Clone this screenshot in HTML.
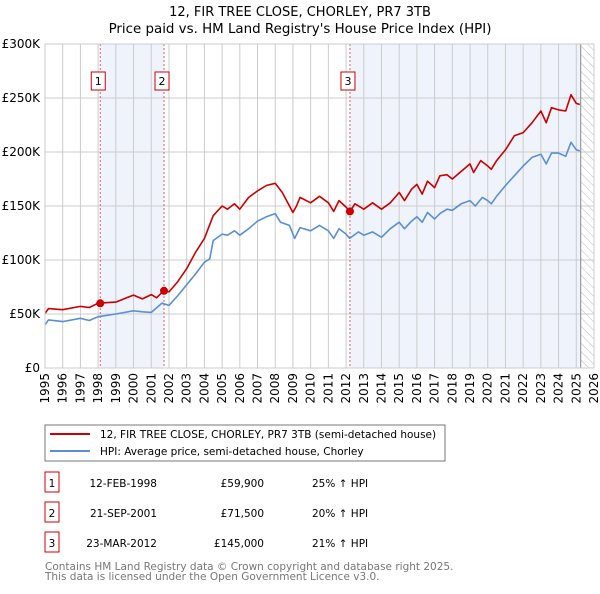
<!DOCTYPE html>
<html><head><meta charset="utf-8"><style>
body{margin:0;background:#fff;font-family:"DejaVu Sans","Liberation Sans",sans-serif;}
svg text{font-family:"DejaVu Sans","Liberation Sans",sans-serif;}
</style></head><body>
<svg id="c" width="600" height="590" viewBox="0 0 600 590">
<defs><pattern id="hatch" width="6" height="6" patternUnits="userSpaceOnUse" patternTransform="rotate(-45)"><line x1="0" y1="0" x2="0" y2="6" stroke="#bbb" stroke-width="1"/></pattern></defs>
<text x="300" y="16" text-anchor="middle" font-size="13">12, FIR TREE CLOSE, CHORLEY, PR7 3TB</text>
<text x="300" y="33" text-anchor="middle" font-size="13.4">Price paid vs. HM Land Registry's House Price Index (HPI)</text>
<g id="plot"></g>
<rect x="45" y="425" width="400" height="36" fill="#fff" stroke="#777"/>
<line x1="50" y1="434" x2="90" y2="434" stroke="#cc0000" stroke-width="2"/>
<text x="100" y="438" font-size="10.5">12, FIR TREE CLOSE, CHORLEY, PR7 3TB (semi-detached house)</text>
<line x1="50" y1="451" x2="90" y2="451" stroke="#5b8fd4" stroke-width="2"/>
<text x="100" y="455" font-size="10.5">HPI: Average price, semi-detached house, Chorley</text>
<g id="table" font-size="10.5"></g>
<text x="45" y="570" font-size="10.5" fill="#777">Contains HM Land Registry data © Crown copyright and database right 2025.</text>
<text x="45" y="580" font-size="10.5" fill="#777">This data is licensed under the Open Government Licence v3.0.</text>
</svg>
<script>
const hpiYears=[1995,1995.2,1996,1997,1997.5,1998,1999,2000,2000.5,2001,2001.6,2002,2002.5,2003,2003.5,2004,2004.3,2004.5,2005,2005.3,2005.7,2006,2006.5,2007,2007.5,2008,2008.3,2008.8,2009.1,2009.4,2010,2010.5,2011,2011.3,2011.6,2012,2012.2,2012.7,2013,2013.5,2014,2014.5,2015,2015.3,2015.7,2016,2016.3,2016.6,2017,2017.3,2017.7,2018,2018.5,2019,2019.3,2019.7,2020,2020.2,2020.5,2021,2021.5,2022,2022.5,2023,2023.3,2023.6,2024,2024.4,2024.7,2025,2025.2];
const hpiValues=[40,44.5,43,46,44,47.5,50,53,52,51.5,60,58,67,77,87,98,101,118,124,123,127,123,129,136,140,143,135,132,120,130,127,132,127,120,129,124,120,126,123,126,121,129,135,129,136,140,135,144,138,143,147,146,152,155,150,158,155,152,159,169,178,187,195,198,189,199,199,196,209,202,201];
const priceYears=[1995,1995.2,1996,1997,1997.5,1998,1999,2000,2000.5,2001,2001.3,2001.7,2002,2002.5,2003,2003.5,2004,2004.5,2005,2005.3,2005.7,2006,2006.5,2007,2007.5,2008,2008.4,2009,2009.2,2009.4,2010,2010.5,2011,2011.3,2011.6,2012,2012.22,2012.5,2013,2013.5,2014,2014.5,2015,2015.3,2015.7,2016,2016.3,2016.6,2017,2017.3,2017.7,2018,2018.5,2019,2019.2,2019.6,2020,2020.2,2020.5,2021,2021.5,2022,2022.5,2023,2023.3,2023.6,2024,2024.4,2024.7,2025,2025.2];
const priceValues=[50.6,55,54,57,56,60,61,67.5,64,68,65,71.5,70.5,80,92,107,120,141,150,147,152,147,158,164,169,171,162.5,144,150,158,153,159,153,145,155,149,145,152,147,153,147,153,162.5,155,165.6,170,161,173,167,178,179,175,182,189,181,192,187,184,192,202,215,218,227,238,227,241,239,238,253,245,244];
const saleYears=[1998.12,2001.72,2012.22];
const saleValues=[59.9,71.5,145];
const saleLabels=["1","2","3"];
const saleDates=["12-FEB-1998","21-SEP-2001","23-MAR-2012"];
const salePrices=["£59,900","£71,500","£145,000"];
const saleDiffs=["25% ↑ HPI","20% ↑ HPI","21% ↑ HPI"];
const yTicks=[0,50,100,150,200,250,300];
const yTickLabels=["£0","£50K","£100K","£150K","£200K","£250K","£300K"];
const xTicks=[1995,1996,1997,1998,1999,2000,2001,2002,2003,2004,2005,2006,2007,2008,2009,2010,2011,2012,2013,2014,2015,2016,2017,2018,2019,2020,2021,2022,2023,2024,2025,2026];
const dataEnd=2025.25;

const X0=45,X1=594,Y0=368,Y1=44;
const xs=y=>X0+(y-1995)/(2026-1995)*(X1-X0);
const ys=v=>Y0-v/300*(Y0-Y1);
const NS="http://www.w3.org/2000/svg";
const plot=document.getElementById('plot');
function mk(tag,attrs,parent){const e=document.createElementNS(NS,tag);for(const k in attrs)e.setAttribute(k,attrs[k]);(parent||plot).appendChild(e);return e;}

let r=mk('rect',{x:xs(saleYears[0]),y:Y1,width:xs(saleYears[1])-xs(saleYears[0]),height:Y0-Y1,fill:'#eef3fc'});


r=mk('rect',{x:xs(saleYears[2]),y:Y1,width:xs(dataEnd)-xs(saleYears[2]),height:Y0-Y1,fill:'#eef3fc'});


r=mk('rect',{x:xs(dataEnd),y:Y1,width:X1-xs(dataEnd),height:Y0-Y1,fill:'url(#hatch)'});



xTicks.forEach(t=>{
 const l=mk('line',{x1:xs(t),x2:xs(t),y1:Y1,y2:Y0,stroke:'#ccc','stroke-width':1});
 
 
 const tx=mk('text',{x:0,y:0,'font-size':12,'text-anchor':'end',transform:`translate(${xs(t)+4},${Y0+5}) rotate(-90)`});
 tx.textContent=t;
 
 
});
yTicks.forEach((t,i)=>{
 const l=mk('line',{x1:X0,x2:X1,y1:ys(t),y2:ys(t),stroke:'#ccc','stroke-width':1});
 
 
 const tx=mk('text',{x:40,y:ys(t)+4,'font-size':12,'text-anchor':'end'});
 tx.textContent=yTickLabels[i];
 
 
});
r=mk('line',{x1:xs(dataEnd),x2:xs(dataEnd),y1:Y1,y2:Y0,stroke:'#888','stroke-width':1});



saleYears.forEach((s,i)=>{
 const l=mk('line',{x1:xs(s),x2:xs(s),y1:Y1,y2:Y0,stroke:'#e06060','stroke-width':1,'stroke-dasharray':'2,2'});
 
 
 const b=mk('rect',{x:xs(s)-9,y:72,width:14,height:18,fill:'#fff',stroke:'#cc0000'});
 
 
 const t=mk('text',{x:xs(s)-2,y:85,'font-size':11,'text-anchor':'middle'});
 t.textContent=saleLabels[i];
 
 
});

function line(xa,va,color,name){
 const d=xa.map((y,i)=>(i?'L':'M')+xs(y).toFixed(1)+','+ys(va[i]).toFixed(1)).join('');
 const p=mk('path',{d:d,fill:'none',stroke:color,'stroke-width':1.6,'stroke-linejoin':'round'});
 
 
}
line(hpiYears,hpiValues,'#5b8fd4','hpi-line');
line(priceYears,priceValues,'#cc0000','price-line');
saleYears.forEach((s,i)=>{
 const c=mk('circle',{cx:xs(s),cy:ys(saleValues[i]),r:4,fill:'#cc0000'});
 
 
});
r=mk('rect',{x:X0,y:Y1,width:X1-X0,height:Y0-Y1,fill:'none',stroke:'#ccc'});



const tb=document.getElementById('table');
saleLabels.forEach((lab,i)=>{
 const y=483+i*30;
 const b=mk('rect',{x:45,y:y-11,width:14,height:20,fill:'#fff',stroke:'#cc0000'},tb);
 
 
 const cols=[[52,'middle',lab,'badge-text'],[157,'end',saleDates[i],'date'],[264,'end',salePrices[i],'price'],[312,'start',saleDiffs[i],'hpi-diff']];
 cols.forEach(c=>{
  const t=mk('text',{x:c[0],y:y+4,'text-anchor':c[1]},tb);
  t.textContent=c[2];
  
  
 });
});
</script>
</body></html>
